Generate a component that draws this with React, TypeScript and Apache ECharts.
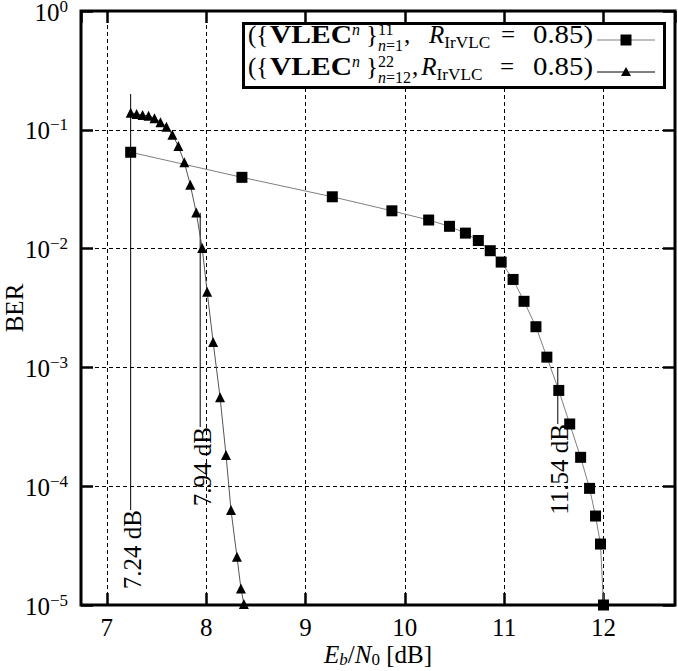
import React, { useEffect, useRef } from 'react';
import * as echarts from 'echarts';

// ---- data ----
const squareX = [7.24, 8.36, 9.27, 9.87, 10.24, 10.45, 10.61, 10.74, 10.86, 10.97, 11.09, 11.2, 11.32, 11.43, 11.55, 11.66, 11.77, 11.86, 11.92, 11.97, 12.0];
const squareBER = [0.0647, 0.0398, 0.0273, 0.0208, 0.0174, 0.0154, 0.0135, 0.0117, 0.0096, 0.0077, 0.0055, 0.0036, 0.0022, 0.00122, 0.00064, 0.000334, 0.000175, 0.0000959, 0.0000561, 0.0000326, 0.00001];

const triangleX = [7.24, 7.3, 7.36, 7.42, 7.48, 7.54, 7.6, 7.66, 7.72, 7.78, 7.84, 7.9, 7.96, 8.01, 8.07, 8.14, 8.2, 8.25, 8.31, 8.35, 8.38];
const triangleBER = [0.139, 0.136, 0.133, 0.131, 0.125, 0.116, 0.106, 0.091, 0.073, 0.0533, 0.0345, 0.0201, 0.0101, 0.00434, 0.00164, 0.00056, 0.000183, 0.000063, 0.0000255, 0.0000138, 0.0000102];

const annoX = [7.24, 7.94, 11.54];
const annoTop = [0.2, 0.02, 0.001];
const annoBottom = [0.000063, 0.000315, 0.000334];
const annoLabels = ['7.24 dB', '7.94 dB', '11.54 dB'];

const xTicks = [7, 8, 9, 10, 11, 12];
const yTickExp = ['0', '\u22121', '\u22122', '\u22123', '\u22124', '\u22125'];

const seriesNames = [
  '({VLECⁿ}¹¹ₙ₌₁, R_IrVLC = 0.85)',
  '({VLECⁿ}²²ₙ₌₁₂, R_IrVLC = 0.85)',
];

const FF = 'Liberation Serif';
const M = 25; // legend main size
const S = 16; // legend script size
const SUP = -8;
const SUB = 8;

// legend text pieces: text, x (undefined = follow previous piece), font, size, baseline offset, align, target width
type Piece = { t: string; x?: number; f: 'm' | 'b' | 'i'; s: number; dy: number; a?: 'left' | 'right'; w?: number; gap?: number };
const p = (t: string, x: number | undefined, f: 'm' | 'b' | 'i' = 'm', s = M, dy = 0, a: 'left' | 'right' = 'left', w?: number, gap = 0): Piece => ({ t, x, f, s, dy, a, w, gap });

const legendRow1: Piece[] = [
  p('({', 248),
  p('VLEC', 270, 'b', M, 0, 'left', 82),
  p('n', 352, 'i', S, SUP),
  p('}', 366),
  p('11', 378, 'm', S, SUP),
  p('n', 378, 'i', S, SUB),
  p('=1', undefined, 'm', S, SUB),
  p(',', undefined, 'm', M, 0, 'left', undefined, 1),
  p('R', 429, 'i'),
  p('IrVLC', undefined, 'm', S, 5, 'left', 46),
  p('=', 501),
  p('0.85)', 593, 'm', M, 0, 'right', 60),
];
const legendRow2: Piece[] = [
  p('({', 248),
  p('VLEC', 270, 'b', M, 0, 'left', 82),
  p('n', 352, 'i', S, SUP),
  p('}', 366),
  p('22', 378, 'm', S, SUP),
  p('n', 378, 'i', S, SUB),
  p('=12', undefined, 'm', S, SUB),
  p(',', undefined, 'm', M, 0, 'left', undefined, 1),
  p('R', undefined, 'i', M, 0, 'left', undefined, 3),
  p('IrVLC', undefined, 'm', S, 5, 'left', 46),
  p('=', 500),
  p('0.85)', 593, 'm', M, 0, 'right', 60),
];

function buildRow(pieces: Piece[], baseline: number) {
  const ctx = document.createElement('canvas').getContext('2d')!;
  let cursor = 0;
  return pieces.map((pc) => {
    ctx.font = `${pc.f === 'i' ? 'italic ' : ''}${pc.f === 'b' ? 'bold ' : ''}${pc.s}px "${FF}"`;
    const natural = ctx.measureText(pc.t).width;
    const sx = pc.w ? pc.w / natural : 1;
    const x = pc.x !== undefined ? pc.x : cursor + (pc.gap || 0);
    cursor = pc.a === 'right' ? x : x + natural * sx;
    return {
      type: 'text',
      x,
      y: baseline + pc.dy - 0.3375 * pc.s,
      scaleX: sx,
      z: 12,
      style: {
        text: pc.t,
        fontFamily: FF,
        fontSize: pc.s,
        lineHeight: pc.s === M ? M : 12,
        fontStyle: pc.f === 'i' ? 'italic' : 'normal',
        fontWeight: pc.f === 'b' ? 'bold' : 'normal',
        fill: '#000',
        align: pc.a || 'left',
        verticalAlign: 'middle',
        textAlign: pc.a || 'left',
        textVerticalAlign: 'middle',
      },
    };
  });
}

export default function App() {
  const ref = useRef<HTMLDivElement>(null);
  useEffect(() => {
    const chart = echarts.init(ref.current!, null, { renderer: 'svg' });

    const axisTick = { show: true, inside: true, length: 12, lineStyle: { color: '#000', width: 2.5 } };
    const split = { show: true, lineStyle: { color: '#000', width: 1, type: [4, 3] as any } };

    const legendEls: any[] = [
      {
        type: 'rect',
        z: 10,
        shape: { x: 243.5, y: 23.5, width: 421, height: 64 },
        style: { fill: '#fff', stroke: '#000', lineWidth: 3 },
      },
      ...buildRow(legendRow1, 43),
      ...buildRow(legendRow2, 75),
      { type: 'line', z: 11, shape: { x1: 597, y1: 40, x2: 655, y2: 40 }, style: { stroke: '#7f7f7f', lineWidth: 1 } },
      { type: 'rect', z: 12, shape: { x: 620.5, y: 34.5, width: 11, height: 11 }, style: { fill: '#000' } },
      { type: 'line', z: 11, shape: { x1: 597, y1: 72, x2: 655, y2: 72 }, style: { stroke: '#000', lineWidth: 1 } },
      { type: 'polygon', z: 12, shape: { points: [[626, 67], [631, 76], [621, 76]] }, style: { fill: '#000' } },
    ];

    chart.setOption({
      animation: false,
      backgroundColor: '#fff',
      textStyle: { fontFamily: FF, color: '#000' },
      grid: {
        left: 81,
        right: 3,
        top: 11,
        bottom: 66,
        show: true,
        borderColor: '#000',
        borderWidth: 3,
        backgroundColor: 'transparent',
        containLabel: false,
        outerBoundsMode: 'none',
      },
      xAxis: [
        {
          type: 'value',
          min: 6.74,
          max: 12.72,
          position: 'bottom',
          axisLine: { show: false },
          axisTick,
          splitLine: split,
          axisLabel: {
            show: true,
            margin: 10,
            color: '#000',
            fontFamily: FF,
            fontSize: 25,
            showMinLabel: false,
            showMaxLabel: false,
            formatter: (v: number) => {
              const k = xTicks.find((t) => Math.abs(t - v) < 1e-6);
              return k === undefined ? '' : String(k);
            },
          },
          name: '{i|E}{s|b}{n|/}{i|N}{z|0}{n| [dB]}',
          nameLocation: 'middle',
          nameGap: 35,
          nameMoveOverlap: false,
          nameTextStyle: {
            color: '#000',
            fontFamily: FF,
            fontSize: 25,
            rich: {
              i: { fontFamily: FF, fontSize: 25, fontStyle: 'italic', lineHeight: 28, verticalAlign: 'middle', color: '#000' },
              n: { fontFamily: FF, fontSize: 25, lineHeight: 28, verticalAlign: 'middle', color: '#000' },
              s: { fontFamily: FF, fontSize: 17, fontStyle: 'italic', lineHeight: 12, verticalAlign: 'bottom', color: '#000' },
              z: { fontFamily: FF, fontSize: 17, lineHeight: 12, verticalAlign: 'bottom', color: '#000' },
            },
          },
        },
        {
          type: 'value',
          min: 6.74,
          max: 12.72,
          position: 'top',
          axisLine: { show: false },
          axisTick,
          axisLabel: { show: false },
          splitLine: { show: false },
        },
      ],
      yAxis: [
        {
          type: 'log',
          logBase: 10,
          min: 1e-5,
          max: 1,
          position: 'left',
          axisLine: { show: false },
          axisTick,
          splitLine: split,
          axisLabel: {
            show: true,
            margin: 13,
            color: '#000',
            formatter: (v: number) => {
              const e = Math.round(Math.log10(v));
              return `{b|10}{s|${yTickExp[-e]}}`;
            },
            rich: {
              b: { fontFamily: FF, fontSize: 25, lineHeight: 27, verticalAlign: 'bottom', color: '#000' },
              s: { fontFamily: FF, fontSize: 17, lineHeight: 16, verticalAlign: 'top', color: '#000' },
            },
          },
          name: 'BER',
          nameLocation: 'middle',
          nameGap: 54,
          nameRotate: 90,
          nameMoveOverlap: false,
          nameTextStyle: { color: '#000', fontFamily: FF, fontSize: 25 },
        },
        {
          type: 'log',
          logBase: 10,
          min: 1e-5,
          max: 1,
          position: 'right',
          axisLine: { show: false },
          axisTick,
          axisLabel: { show: false },
          splitLine: { show: false },
        },
      ],
      series: [
        {
          name: seriesNames[0],
          type: 'line',
          data: squareX.map((x, i) => [x, squareBER[i]]),
          symbol: 'rect',
          symbolSize: 11,
          itemStyle: { color: '#000' },
          lineStyle: { color: '#7f7f7f', width: 1 },
          clip: false,
          z: 5,
        },
        {
          name: seriesNames[1],
          type: 'line',
          data: triangleX.map((x, i) => [x, triangleBER[i]]),
          symbol: 'triangle',
          symbolSize: 10,
          itemStyle: { color: '#000' },
          lineStyle: { color: '#555', width: 1 },
          clip: false,
          z: 5,
        },
        ...annoX.map((x, i) => ({
          name: 'anno' + i,
          type: 'line',
          data: [
            [x, annoTop[i]],
            [x, annoBottom[i]],
          ],
          symbol: 'none',
          lineStyle: { color: '#000', width: 1 },
          silent: true,
          z: 4,
        })),
        {
          name: 'annoLabels',
          type: 'scatter',
          data: annoX.map((x, i) => ({ value: [x, annoBottom[i]], name: annoLabels[i] })),
          symbolSize: 0,
          itemStyle: { color: '#000', opacity: 1 },
          silent: true,
          z: 6,
          clip: false,
          label: {
            show: true,
            position: 'inside',
            formatter: (q: any) => annoLabels[q.dataIndex],
            rotate: 90,
            align: 'right',
            verticalAlign: 'middle',
            offset: [0, 2],
            color: '#000',
            opacity: 1,
            textBorderWidth: 0,
            fontFamily: FF,
            fontSize: 25,
          },
        },
      ],
      graphic: legendEls,
    });
    return () => chart.dispose();
  }, []);
  return (
    <div
      ref={ref}
      style={{ position: 'fixed', left: 0, top: 0, width: 678, height: 671, background: '#fff' }}
    />
  );
}
